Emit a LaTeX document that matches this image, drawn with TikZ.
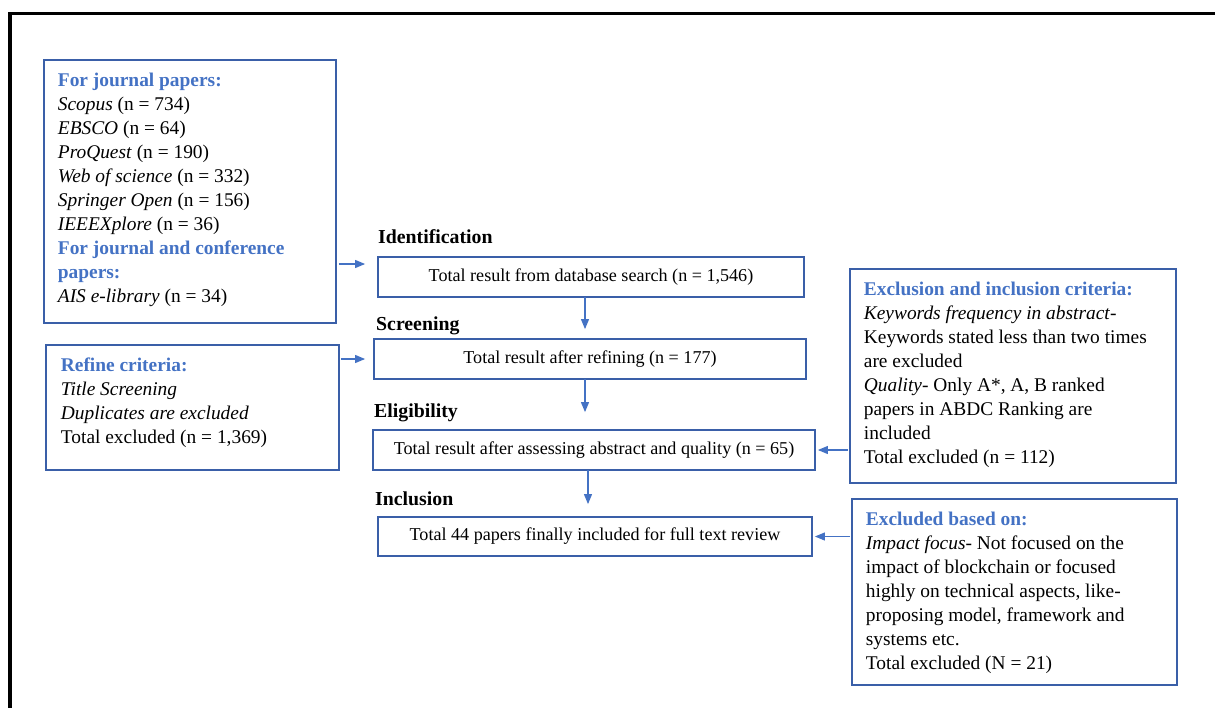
\documentclass[tikz,border=0pt]{standalone}
\usepackage{fontspec}
\setmainfont{Liberation Serif}
\usetikzlibrary{arrows.meta,calc}
\definecolor{boxblue}{HTML}{3A5FA8}
\definecolor{titleblue}{HTML}{4472C4}
\definecolor{arrblue}{HTML}{4472C4}
\tikzset{
  x=1pt,y=-1pt,
  flowbox/.style={draw=boxblue, line width=1.8pt, inner sep=0pt, font=\fontsize{18.1}{20}\selectfont},
  sidebox/.style={draw=boxblue, line width=1.8pt, inner ysep=0pt, anchor=north west, font=\fontsize{19.4}{24}\selectfont},
  lab/.style={anchor=base west, inner sep=0pt, font=\fontsize{19.8}{22}\selectfont\bfseries},
  arr/.style={draw=arrblue, line width=1.1pt, -{Triangle[length=10pt,width=8pt]}},
  frame/.style={line width=3.6pt, black}
}
\newcommand{\ttl}[1]{\textcolor{titleblue}{\textbf{#1}}}
\newcommand{\sidetext}[3]{\parbox[c][#2][t]{#1}{\raggedright\rule{0pt}{26.5pt}#3}}
\begin{document}
\begin{tikzpicture}
\useasboundingbox (0,0) rectangle (1215,707);
% frame
\coordinate (ftl) at (10,13.3);
\coordinate (ftr) at (1216,13.3);
\coordinate (fbl) at (10,708);
\draw[frame] (ftr) -- (ftl) -- (fbl);

% side boxes
\node[sidebox, inner xsep=14pt] (jbox) at (43,59)
 {\sidetext{264pt}{263pt}{\ttl{For journal papers:}\\
  \textit{Scopus} (n = 734)\\
  \textit{EBSCO} (n = 64)\\
  \textit{ProQuest} (n = 190)\\
  \textit{Web of science} (n = 332)\\
  \textit{Springer Open} (n = 156)\\
  \textit{IEEEXplore} (n = 36)\\
  \ttl{For journal and conference}\\
  \ttl{papers:}\\
  \textit{AIS e-library} (n = 34)}};

\node[sidebox, inner xsep=15pt] (rbox) at (45,344)
 {\sidetext{263pt}{125pt}{\ttl{Refine criteria:}\\
  \textit{Title Screening}\\
  \textit{Duplicates are excluded}\\
  Total excluded (n = 1,369)}};

\node[sidebox, inner xsep=14pt] (ebox) at (849,268)
 {\sidetext{298pt}{214pt}{\ttl{Exclusion and inclusion criteria:}\\
  \textit{Keywords frequency in abstract}-\\
  Keywords stated less than two times\\
  are excluded\\
  \textit{Quality}- Only A*, A, B ranked\\
  papers in ABDC Ranking are\\
  included\\
  Total excluded (n = 112)}};

\node[sidebox, inner xsep=14pt] (xbox) at (851,498)
 {\sidetext{297pt}{186pt}{\ttl{Excluded based on:}\\
  \textit{Impact focus}- Not focused on the\\
  impact of blockchain or focused\\
  highly on technical aspects, like-\\
  proposing model, framework and\\
  systems etc.\\
  Total excluded (N = 21)}};

% stage labels
\node[lab] (lid) at (378,243) {Identification};
\node[lab] (lsc) at (376,330) {Screening};
\node[lab] (lel) at (374,417) {Eligibility};
\node[lab] (lin) at (375,505) {Inclusion};

% flow boxes
\node[flowbox, minimum width=426pt, minimum height=40pt] (b1) at (591,277) {Total result from database search (n = 1,546)};
\node[flowbox, minimum width=432pt, minimum height=40pt] (b2) at (590,359) {Total result after refining (n = 177)};
\node[flowbox, minimum width=442pt, minimum height=40pt] (b3) at (594,450) {Total result after assessing abstract and quality (n = 65)};
\node[flowbox, minimum width=434pt, minimum height=39pt] (b4) at (595,536.5) {Total 44 papers finally included for full text review};

% arrow anchor points
\coordinate (a1) at (585,297);
\coordinate (a2) at (585,379);
\coordinate (a3) at (588,470);

% arrows
\draw[arr, shorten <=2pt, shorten >=12pt] ([yshift=13pt]b1.west -| jbox.east) -- ([yshift=13pt]b1.west);
\draw[arr, shorten <=1pt, shorten >=8pt] (rbox.east |- b2.west) -- (b2.west);
\draw[arr, shorten >=9pt] (a1) -- (a1 |- b2.north);
\draw[arr, shorten >=17pt] (a2) -- (a2 |- b3.north);
\draw[arr, shorten >=12pt] (a3) -- (a3 |- b4.north);
\draw[arr, shorten <=1pt, shorten >=2pt] (ebox.west |- b3.east) -- (b3.east);
\draw[arr, shorten <=1pt, shorten >=2pt] (xbox.west |- b4.east) -- (b4.east);
\end{tikzpicture}
\end{document}
